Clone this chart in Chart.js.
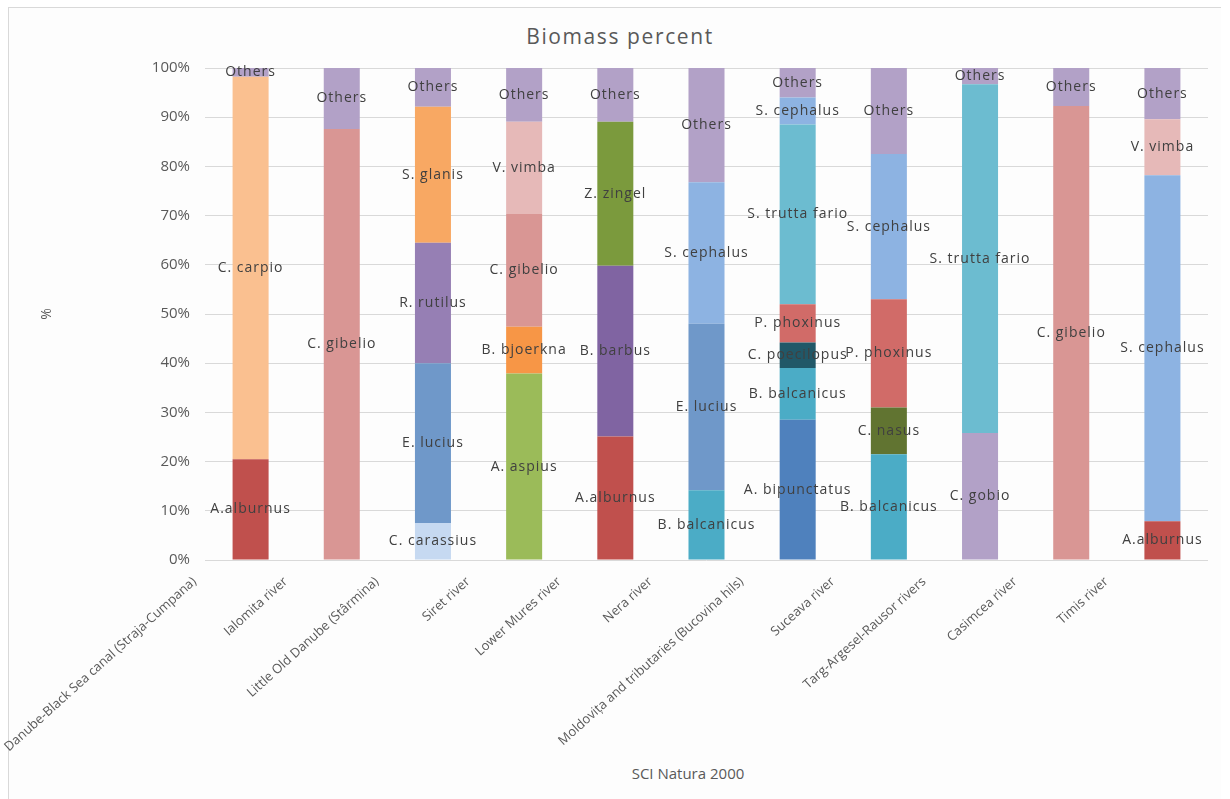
<!DOCTYPE html>
<html lang="en">
<head>
    <meta charset="UTF-8">
    <title>Biomass percent</title>
    <style>
        body {
            margin: 0;
            background: #ffffff;
            font-family: "Open Sans", sans-serif;
        }

        .frame {
            position: absolute;
            left: 8px;
            top: 7px;
            width: 1212px;
            height: 792px;
            border-top: 1px solid #d9d9d9;
            border-left: 1px solid #d9d9d9;
            background: #fdfdfd;
        }

        .chart-box {
            position: absolute;
            left: 0;
            top: 0;
            width: 1230px;
            height: 799px;
        }

        .chart-title {
            position: absolute;
            left: 420px;
            width: 400px;
            top: 22px;
            text-align: center;
            font-size: 21px;
            line-height: 28px;
            letter-spacing: 1.6px;
            color: #595959;
        }

        .axis-title {
            position: absolute;
            left: 588px;
            width: 200px;
            top: 762px;
            text-align: center;
            font-size: 15px;
            line-height: 22px;
            color: #595959;
        }
    </style>
</head>
<body>
    <div class="frame"></div>
    <div class="chart-title">Biomass percent</div>
    <div class="axis-title">SCI Natura 2000</div>
    <div class="chart-box">
        <canvas id="biomassChart"></canvas>
    </div>
    <script src="https://cdn.jsdelivr.net/npm/chart.js"></script>
    <script>
        var sites = [
            'Danube-Black Sea canal (Straja-Cumpana)',
            'Ialomita river',
            'Little Old Danube (Stârmina)',
            'Siret river',
            'Lower Mures river',
            'Nera river',
            'Moldovița and tributaries (Bucovina hils)',
            'Suceava river',
            'Targ-Argesel-Rausor rivers',
            'Casimcea river',
            'Timis river'
        ];

        // species of each bar, bottom to top
        var speciesBySite = [
            ['A.alburnus', 'C. carpio', 'Others'],
            ['C. gibelio', 'Others'],
            ['C. carassius', 'E. lucius', 'R. rutilus', 'S. glanis', 'Others'],
            ['A. aspius', 'B. bjoerkna', 'C. gibelio', 'V. vimba', 'Others'],
            ['A.alburnus', 'B. barbus', 'Z. zingel', 'Others'],
            ['B. balcanicus', 'E. lucius', 'S. cephalus', 'Others'],
            ['A. bipunctatus', 'B. balcanicus', 'C. poecilopus', 'P. phoxinus', 'S. trutta fario', 'S. cephalus', 'Others'],
            ['B. balcanicus', 'C. nasus', 'P. phoxinus', 'S. cephalus', 'Others'],
            ['C. gobio', 'S. trutta fario', 'Others'],
            ['C. gibelio', 'Others'],
            ['A.alburnus', 'S. cephalus', 'V. vimba', 'Others']
        ];

        // biomass % of each species, same order
        var percentBySite = [
            [20.5, 77.7, 1.8],
            [87.6, 12.4],
            [7.5, 32.5, 24.5, 27.6, 7.9],
            [37.9, 9.5, 22.9, 18.8, 10.9],
            [25.1, 34.7, 29.3, 10.9],
            [14.2, 33.8, 28.8, 23.2],
            [28.5, 10.5, 5.2, 7.8, 36.5, 5.5, 6.0],
            [21.5, 9.5, 22.0, 29.5, 17.5],
            [25.8, 70.9, 3.3],
            [92.3, 7.7],
            [7.9, 70.3, 11.4, 10.4]
        ];

        var speciesColors = {
            'Others': '#b2a1c7',
            'A.alburnus': '#c0504d',
            'A. aspius': '#9bbb59',
            'A. bipunctatus': '#4f81bd',
            'B. balcanicus': '#4bacc6',
            'B. barbus': '#8064a2',
            'B. bjoerkna': '#f79646',
            'C. carassius': '#c6d9f1',
            'C. carpio': '#fac090',
            'C. gibelio': '#d99694',
            'C. gobio': '#b2a1c7',
            'C. nasus': '#617431',
            'C. poecilopus': '#215868',
            'E. lucius': '#6f98c9',
            'P. phoxinus': '#d16b68',
            'R. rutilus': '#967fb4',
            'S. cephalus': '#8db3e2',
            'S. glanis': '#f8a863',
            'S. trutta fario': '#6cbcd0',
            'V. vimba': '#e6b9b8',
            'Z. zingel': '#7b9a3d'
        };

        // one dataset per stack level, coloured per bar
        var layers = Math.max.apply(null, speciesBySite.map(function (s) { return s.length; }));
        var datasets = [];
        for (var k = 0; k < layers; k++) {
            datasets.push({
                label: 'level ' + (k + 1),
                data: percentBySite.map(function (p) { return p[k] === undefined ? null : p[k]; }),
                names: speciesBySite.map(function (s) { return s[k] || ''; }),
                backgroundColor: speciesBySite.map(function (s) { return speciesColors[s[k]] || 'transparent'; }),
                borderWidth: 0,
                barPercentage: 0.395,
                categoryPercentage: 1
            });
        }

        var segmentLabels = {
            id: 'segmentLabels',
            afterDatasetsDraw: function (chart) {
                var ctx = chart.ctx;
                ctx.save();
                ctx.font = '14px "Open Sans"';
                ctx.letterSpacing = '1px';
                ctx.fillStyle = '#404040';
                ctx.textAlign = 'center';
                ctx.textBaseline = 'middle';
                chart.data.datasets.forEach(function (ds, di) {
                    chart.getDatasetMeta(di).data.forEach(function (bar, i) {
                        if (ds.data[i] === null) return;
                        ctx.fillText(ds.names[i], bar.x, (bar.y + bar.base) / 2);
                    });
                });
                ctx.restore();
            }
        };

        var ctx = document.getElementById('biomassChart').getContext('2d');
        var biomassChart = new Chart(ctx, {
            type: 'bar',
            data: {
                labels: sites,
                datasets: datasets
            },
            options: {
                responsive: true,
                maintainAspectRatio: false,
                animation: false,
                layout: {
                    padding: { left: 8, right: 22, top: 68, bottom: 0 }
                },
                plugins: {
                    legend: { display: false },
                    tooltip: { enabled: false }
                },
                scales: {
                    x: {
                        stacked: true,
                        grid: { display: false, drawTicks: false },
                        border: { display: false },
                        ticks: {
                            color: '#595959',
                            font: { family: 'Open Sans', size: 13 },
                            minRotation: 42,
                            maxRotation: 42,
                            autoSkip: false,
                            labelOffset: -56,
                            padding: 14
                        },
                        afterFit: function (scale) { scale.height = 239; }
                    },
                    y: {
                        stacked: true,
                        min: 0,
                        max: 100,
                        grid: { color: '#d9d9d9', drawTicks: false },
                        border: { display: false },
                        ticks: {
                            stepSize: 10,
                            color: '#595959',
                            font: { family: 'Open Sans', size: 15 },
                            padding: 15,
                            callback: function (v) { return v + '%'; }
                        },
                        title: {
                            display: true,
                            text: '%',
                            color: '#595959',
                            font: { family: 'Open Sans', size: 14 },
                            padding: { top: 31, bottom: 0 }
                        },
                        afterFit: function (scale) { scale.width = 197; }
                    }
                }
            },
            plugins: [segmentLabels]
        });
    </script>
</body>
</html>
